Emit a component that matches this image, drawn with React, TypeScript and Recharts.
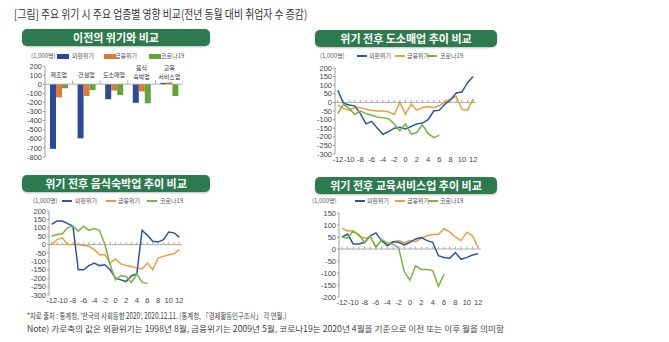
import React from "react";
import { BarChart, Bar, LineChart, Line, XAxis, YAxis, ReferenceLine } from "recharts";

const FONT = '"Noto Sans CJK KR", "Noto Sans", sans-serif';
const NUMFONT = '"Liberation Sans Narrow", "Liberation Sans", "Noto Sans", sans-serif';

const BLUE = "#2c56a3";
const ORANGE = "#e89d3e";
const GREEN = "#78b443";
const BAR_BLUE = "#2b4a98";
const BAR_ORANGE = "#e07a34";
const BAR_GREEN = "#62a43c";
const HEADER = "#2d7a4e";

// ---- bar chart (이전의 위기와 비교) ----
const categories = ["제조업", "건설업", "도소매업", "음식\n숙박업", "교육\n서비스업"];
const barAsian = [-710, -595, -165, -205, 15];
const barFinancial = [-145, -130, -70, -80, 20];
const barCovid = [-45, -65, -120, -210, -130];
const barYTicks = [200, 100, 0, -100, -200, -300, -400, -500, -600, -700, -800];

// ---- line charts ----
const months = [-12, -11, -10, -9, -8, -7, -6, -5, -4, -3, -2, -1, 0, 1, 2, 3, 4, 5, 6, 7, 8, 9, 10, 11, 12];
const monthTicks = [-12, -10, -8, -6, -4, -2, 0, 2, 4, 6, 8, 10, 12];
const ticks200 = [200, 150, 100, 50, 0, -50, -100, -150, -200, -250, -300];
const ticks150 = [150, 100, 50, 0, -50, -100, -150, -200];

// 도소매업
const retailAsian = [70, -5, -15, -20, -65, -125, -110, -150, -185, -170, -150, -145, -155, -140, -125, -120, -100, -50, -45, -10, 15, 55, 60, 115, 150];
const retailFinancial = [-15, -35, -45, -30, -30, -40, -45, -50, -50, -55, -70, 0, -70, -10, -45, -30, -25, -30, -20, 5, 20, 35, -40, -45, 20];
const retailCovid = [-65, -10, -35, -70, -50, -65, -75, -85, -90, -95, -125, -165, -125, -185, -175, -130, -180, -205, -190];

// 음식숙박업
const foodAsian = [120, 140, 140, 125, 110, -150, -150, -125, -110, -125, -120, -150, -200, -210, -220, -185, -175, 85, 55, 20, 15, 30, 75, 70, 45];
const foodFinancial = [0, 30, 40, 0, 0, 0, -5, -10, -30, -60, -60, -110, -85, -115, -125, -130, -140, -145, -110, -150, -80, -70, -60, -55, -30];
const foodCovid = [50, 60, 65, 100, 110, 80, 110, 85, 95, 85, 0, -120, -210, -185, -190, -225, -175, -225, -230];

// 교육서비스업
const eduAsian = [49, 62, 21, 21, 28, 55, 67, 35, 14, 30, 28, 17, 28, 42, 48, 35, 28, -28, -35, -38, -15, -43, -35, -25, -20];
const eduFinancial = [87, 75, 75, 55, 45, 50, 10, 35, 15, 30, 35, 25, 35, 30, 45, 55, 60, 60, 85, 70, 50, 35, 70, 55, 5];
const eduCovid = [50, 45, 75, 60, 25, 55, 5, 40, 25, 20, 5, -95, -130, -70, -85, -85, -90, -155, -105];

const barData = categories.map((c, i) => ({ c, a: barAsian[i], f: barFinancial[i], v: barCovid[i] }));

function buildLine(a: number[], f: number[], v: number[]) {
  return months.map((m, i) => ({ m, a: a[i], f: f[i], v: v[i], z: 0 }));
}

const retailData = buildLine(retailAsian, retailFinancial, retailCovid);
const foodData = buildLine(foodAsian, foodFinancial, foodCovid);
const eduData = buildLine(eduAsian, eduFinancial, eduCovid);

const tickStyle = { fontSize: 7.5, fill: "#444", fontFamily: NUMFONT };

function ZeroTick(props: any) {
  const { cx, cy } = props;
  if (cx == null || cy == null) return null;
  return <line x1={cx} x2={cx} y1={cy} y2={cy - 2.5} stroke="#999" strokeWidth={0.8} />;
}

function renderCategoryTick(props: any) {
  const { x, y, payload } = props;
  const lines = String(payload.value).split("\n");
  const half = 13.8;
  return (
    <g>
      {lines.length === 1 ? (
        <text x={x} y={y + 10.5} textAnchor="middle" fontSize={6} fill="#333" fontFamily={FONT}>
          {lines[0]}
        </text>
      ) : (
        <>
          <text x={x} y={y + 4} textAnchor="middle" fontSize={6} fill="#333" fontFamily={FONT}>
            {lines[0]}
          </text>
          <text x={x} y={y + 12.5} textAnchor="middle" fontSize={6} fill="#333" fontFamily={FONT}>
            {lines[1]}
          </text>
        </>
      )}
      <line x1={x + half} x2={x + half} y1={y + 18} y2={y + 14.5} stroke="#999" strokeWidth={0.8} />
    </g>
  );
}

function Header({ left, top, width, text }: { left: number; top: number; width: number; text: string }) {
  return (
    <div
      style={{
        position: "absolute",
        left,
        top,
        width,
        height: 17,
        background: HEADER,
        borderRadius: 5,
        color: "#fff",
        fontFamily: FONT,
        fontWeight: 700,
        fontSize: 11,
        lineHeight: "17px",
        textAlign: "center",
        boxShadow: "0 1px 2px rgba(0,0,0,0.25)",
      }}
    >
      {text}
    </div>
  );
}

type LegendPos = { unit: number; a: number; at: number; f: number; ft: number; v: number; vt: number };

function Legend({ top, pos, rect }: { top: number; pos: LegendPos; rect: boolean }) {
  const txt = (x: number, s: string) => (
    <div
      style={{
        position: "absolute",
        left: x,
        top: top - 5,
        fontFamily: FONT,
        fontSize: 6,
        lineHeight: "10px",
        color: "#555",
        whiteSpace: "nowrap",
      }}
    >
      {s}
    </div>
  );
  const mark = (x: number, c: string) => (
    <div
      style={{
        position: "absolute",
        left: x,
        top: rect ? top - 2.5 : top - 1,
        width: rect ? 12 : 10,
        height: rect ? 5 : 2,
        background: c,
      }}
    />
  );
  return (
    <>
      {txt(pos.unit, "(1,000명)")}
      {mark(pos.a, rect ? BAR_BLUE : BLUE)}
      {txt(pos.at, "외환위기")}
      {mark(pos.f, rect ? BAR_ORANGE : ORANGE)}
      {txt(pos.ft, "금융위기")}
      {mark(pos.v, rect ? BAR_GREEN : GREEN)}
      {txt(pos.vt, "코로나19")}
    </>
  );
}

function TrendChart({
  left,
  top,
  width,
  height,
  data,
  yTicks,
  yDomain,
}: {
  left: number;
  top: number;
  width: number;
  height: number;
  data: any[];
  yTicks: number[];
  yDomain: [number, number];
}) {
  return (
    <div style={{ position: "absolute", left, top }}>
      <LineChart width={width + 8} height={height + 3} data={data} margin={{ top: 8, right: 8, bottom: 3, left: 0 }}>
        <XAxis
          dataKey="m"
          type="number"
          domain={[-12.5, 12.5]}
          ticks={monthTicks}
          interval={0}
          axisLine={false}
          tickLine={false}
          tickSize={0}
          tickMargin={3}
          height={12}
          tick={tickStyle}
        />
        <YAxis
          type="number"
          domain={yDomain}
          ticks={yTicks}
          interval={0}
          width={35}
          axisLine={{ stroke: "#888", strokeWidth: 0.8 }}
          tickLine={{ stroke: "#888", strokeWidth: 0.8 }}
          tickSize={2}
          tickMargin={1}
          tick={tickStyle}
        />
        <ReferenceLine y={0} stroke="#999" strokeWidth={0.8} />
        <Line dataKey="z" stroke="none" dot={<ZeroTick />} isAnimationActive={false} legendType="none" />
        <Line dataKey="f" stroke={ORANGE} strokeWidth={1.5} dot={false} isAnimationActive={false} />
        <Line dataKey="a" stroke={BLUE} strokeWidth={1.5} dot={false} isAnimationActive={false} />
        <Line dataKey="v" stroke={GREEN} strokeWidth={1.5} dot={false} isAnimationActive={false} />
      </LineChart>
    </div>
  );
}

export default function App() {
  return (
    <div
      style={{
        position: "absolute",
        left: 0,
        top: 0,
        width: 669,
        height: 342,
        background: "#fff",
        overflow: "hidden",
      }}
    >
      <div
        style={{
          position: "absolute",
          left: 14,
          top: 6,
          fontFamily: FONT,
          fontSize: 12,
          lineHeight: "16px",
          color: "#333",
          whiteSpace: "nowrap",
          transform: "scaleX(0.82)",
          transformOrigin: "left top",
        }}
      >
        [그림] 주요 위기 시 주요 업종별 영향 비교(전년 동월 대비 취업자 수 증감)
      </div>

      <Header left={22} top={29} width={188} text="이전의 위기와 비교" />
      <Header left={315} top={30} width={182} text="위기 전후 도소매업 추이 비교" />
      <Header left={22} top={175} width={188} text="위기 전후 음식숙박업 추이 비교" />
      <Header left={315} top={177} width={182} text="위기 전후 교육서비스업 추이 비교" />

      <Legend top={56} rect pos={{ unit: 31, a: 57, at: 72, f: 104, ft: 115, v: 149, vt: 161 }} />
      <Legend top={56} rect={false} pos={{ unit: 320, a: 357, at: 369, f: 395, ft: 407, v: 427, vt: 440 }} />
      <Legend top={201} rect={false} pos={{ unit: 33, a: 62, at: 75, f: 106, ft: 118, v: 147, vt: 160 }} />
      <Legend top={201} rect={false} pos={{ unit: 312, a: 355, at: 367, f: 395, ft: 407, v: 428, vt: 440 }} />

      {/* bar chart */}
      <div style={{ position: "absolute", left: 10, top: 58 }}>
        <BarChart
          width={173}
          height={105}
          data={barData}
          margin={{ top: 6, right: 0, bottom: 6, left: 0 }}
          barGap={0}
          barSize={6}
        >
          <XAxis
            dataKey="c"
            orientation="top"
            height={2}
            axisLine={false}
            tickLine={false}
            tickSize={0}
            tickMargin={0}
            interval={0}
            tick={renderCategoryTick}
          />
          <YAxis
            type="number"
            domain={[-800, 200]}
            ticks={barYTicks}
            interval={0}
            width={35}
            axisLine={{ stroke: "#888", strokeWidth: 0.8 }}
            tickLine={{ stroke: "#888", strokeWidth: 0.8 }}
            tickSize={2}
            tickMargin={1}
            tick={tickStyle}
          />
          <ReferenceLine y={0} stroke="#999" strokeWidth={0.8} />
          <Bar dataKey="a" fill={BAR_BLUE} isAnimationActive={false} />
          <Bar dataKey="f" fill={BAR_ORANGE} isAnimationActive={false} />
          <Bar dataKey="v" fill={BAR_GREEN} isAnimationActive={false} />
        </BarChart>
      </div>

      <TrendChart left={300} top={60} width={176} height={106} data={retailData} yTicks={ticks200} yDomain={[-300, 200]} />
      <TrendChart left={14} top={203} width={168} height={104} data={foodData} yTicks={ticks200} yDomain={[-300, 200]} />
      <TrendChart left={304} top={205} width={177} height={104} data={eduData} yTicks={ticks150} yDomain={[-200, 150]} />

      <div
        style={{
          position: "absolute",
          left: 27,
          top: 309,
          fontFamily: FONT,
          fontSize: 8.5,
          lineHeight: "12px",
          color: "#444",
          whiteSpace: "nowrap",
          transform: "scaleX(0.75)",
          transformOrigin: "left top",
        }}
      >
        *자료 출처 : 통계청, '한국의 사회동향 2020', 2020.12.11. (통계청, 「경제활동인구조사」 각 연월.)
      </div>
      <div
        style={{
          position: "absolute",
          left: 27,
          top: 322,
          fontFamily: FONT,
          fontSize: 8.5,
          lineHeight: "12px",
          color: "#444",
          whiteSpace: "nowrap",
          transform: "scaleX(1.02)",
          transformOrigin: "left top",
        }}
      >
        Note) 가로축의 값은 외환위기는 1998년 8월, 금융위기는 2009년 5월, 코로나19는 2020년 4월을 기준으로 이전 또는 이후 월을 의미함
      </div>
    </div>
  );
}
